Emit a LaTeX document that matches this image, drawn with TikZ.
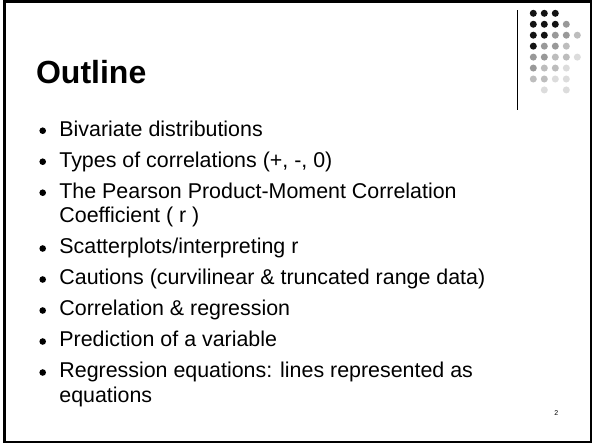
\documentclass[tikz,border=0pt]{standalone}
\usepackage{fontspec}
\setmainfont{Liberation Sans}[Ligatures=NoCommon]
\definecolor{dotdark}{HTML}{141414}
\definecolor{dotmid}{HTML}{999999}
\definecolor{dotlight}{HTML}{BDBDBD}
\definecolor{dotpale}{HTML}{DCDCDC}

\begin{document}
\begin{tikzpicture}[
        x=1pt, y=-1pt,
        slide_frame/.style={draw=black, line width=2.4pt},
        title_text/.style={anchor=base west, inner sep=0pt, font=\fontsize{32}{38}\selectfont\bfseries},
        item_text/.style={anchor=base west, inner sep=0pt, font=\fontsize{21.4}{24.6}\selectfont},
        bullet_dot/.style={circle, fill=black, inner sep=0pt, minimum size=6.6pt},
        page_num/.style={anchor=base, inner sep=0pt, font=\fontsize{7}{8}\selectfont}
    ]
        \useasboundingbox (0,0) rectangle (593,445);
        \fill[white] (0,0) rectangle (593,445);
        \draw[slide_frame] (4.6,1.4) rectangle (590.8,442);

        \draw[line width=1pt] (517.3,10) -- (517.3,110);
        \foreach \c/\r/\s in {0/0/dotdark, 1/0/dotdark, 2/0/dotdark,
                0/1/dotdark, 1/1/dotdark, 2/1/dotdark, 3/1/dotmid,
                0/2/dotdark, 1/2/dotdark, 2/2/dotmid, 3/2/dotmid, 4/2/dotlight,
                0/3/dotdark, 1/3/dotmid, 2/3/dotmid, 3/3/dotlight,
                0/4/dotmid, 1/4/dotmid, 2/4/dotlight, 3/4/dotlight, 4/4/dotpale,
                0/5/dotmid, 1/5/dotlight, 2/5/dotlight, 3/5/dotpale,
                0/6/dotlight, 1/6/dotlight, 2/6/dotpale, 3/6/dotpale,
                1/7/dotpale, 3/7/dotpale}
            \fill[\s] (533.3+11*\c, 13.3+10.95*\r) circle (3.5pt);

        \node[title_text] (title) at (35.9, 83.3) {Outline};

        \node[bullet_dot] (dot1) at (42.7, 130.7) {};
        \node[item_text] (item1) at (59.2, 136) {Bivariate distributions};
        \node[bullet_dot] (dot2) at (42.7, 161.7) {};
        \node[item_text] (item2) at (59.2, 167) {Types of correlations (+, -, 0)};
        \node[bullet_dot] (dot3) at (42.7, 192.7) {};
        \node[item_text] (item3) at (59.2, 198) {The Pearson Product-Moment Correlation};
        \node[item_text] (item3_b) at (59.2, 222.8) {Coefficient ( r )};
        \node[bullet_dot] (dot4) at (42.7, 248.5) {};
        \node[item_text] (item4) at (59.2, 253.8) {Scatterplots/interpreting r};
        \node[bullet_dot] (dot5) at (42.7, 279.5) {};
        \node[item_text] (item5) at (59.2, 284.8) {Cautions (curvilinear \& truncated range data)};
        \node[bullet_dot] (dot6) at (42.7, 310.5) {};
        \node[item_text] (item6) at (59.2, 315.8) {Correlation \& regression};
        \node[bullet_dot] (dot7) at (42.7, 341.5) {};
        \node[item_text] (item7) at (59.2, 346.8) {Prediction of a variable};
        \node[bullet_dot] (dot8) at (42.7, 372.5) {};
        \node[item_text] (item8) at (59.2, 377.8) {Regression equations: lines represented as};
        \node[item_text] (item8_b) at (59.2, 402.6) {equations};

        \node[page_num] (page) at (556.2, 415.5) {2};

    \end{tikzpicture}
\end{document}
